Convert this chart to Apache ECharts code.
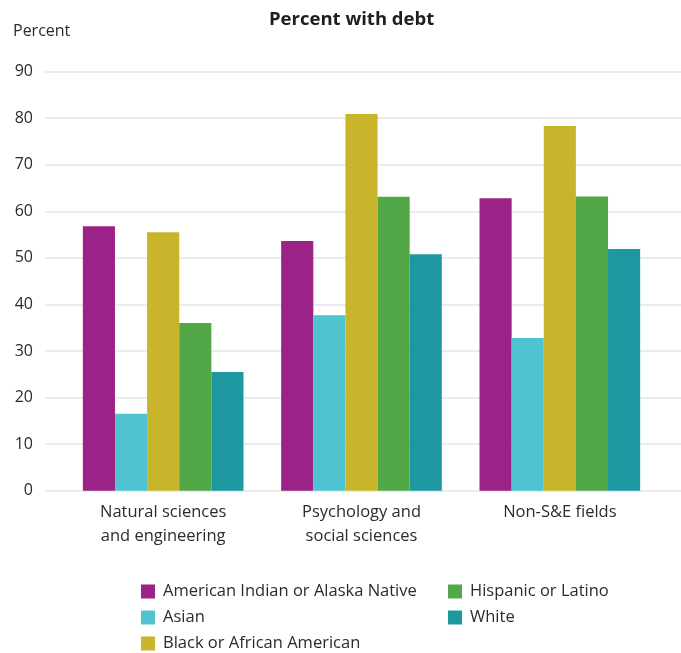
<!DOCTYPE html>
<html>
<head>
<meta charset="utf-8">
<script src="https://cdn.jsdelivr.net/npm/echarts@6/dist/echarts.min.js"></script>
<style>
  html, body { margin: 0; padding: 0; background: #fff; }
  #main { width: 681px; height: 653px; }
</style>
</head>
<body>
<div id="main"></div>
<script>
// categories and values
var categories = ['Natural sciences\nand engineering', 'Psychology and\nsocial sciences', 'Non-S&E fields'];
var groupNames = ['American Indian or Alaska Native', 'Asian', 'Black or African American', 'Hispanic or Latino', 'White'];
var indianValues = [56.8, 53.6, 62.8];
var asianValues = [16.5, 37.7, 32.8];
var blackValues = [55.5, 80.9, 78.3];
var hispanicValues = [36.0, 63.1, 63.2];
var whiteValues = [25.5, 50.8, 51.9];
var groupColors = ['#9b2387', '#4fc3cf', '#c9b52c', '#52a847', '#1d98a0'];

var font = '"Open Sans", sans-serif';
var textColor = '#2b2b2b';

var chart = echarts.init(document.getElementById('main'));

var seriesData = [indianValues, asianValues, blackValues, hispanicValues, whiteValues];
var series = [];
for (var i = 0; i < groupNames.length; i++) {
  series.push({
    name: groupNames[i],
    type: 'bar',
    xAxisIndex: 1,
    yAxisIndex: 1,
    barGap: 0,
    barCategoryGap: '19%',
    itemStyle: { color: groupColors[i] },
    data: seriesData[i]
  });
}

// legend is split in two columns like the original
function legendCol(names, left) {
  return {
    data: names,
    orient: 'vertical',
    left: left,
    top: 583,
    height: 80,
    padding: 0,
    icon: 'rect',
    itemWidth: 14,
    itemHeight: 14,
    itemGap: 9,
    textStyle: { fontFamily: font, fontSize: 16.5, color: textColor, lineHeight: 17, padding: [0, 0, 0, 3] }
  };
}

var option = {
  animation: false,
  textStyle: { fontFamily: font },
  title: {
    text: 'Percent with debt',
    left: 264,
    top: 5,
    textStyle: { fontFamily: font, fontSize: 18.5, fontWeight: 'bold', color: '#1e1e1e' }
  },
  graphic: [{
    type: 'text',
    left: 13,
    top: 23,
    style: { text: 'Percent', fontFamily: font, fontSize: 16, fill: textColor }
  }],
  legend: [legendCol(groupNames.slice(0, 3), 141), legendCol(groupNames.slice(3), 448)],
  grid: [
    { left: 45, right: 0, top: 71.6, bottom: 162.3 },
    { left: 64, right: 22, top: 71.6, bottom: 162.3 }
  ],
  xAxis: [
    { gridIndex: 0, type: 'category', data: categories, show: false },
    {
      gridIndex: 1,
      type: 'category',
      data: categories,
      axisLine: { show: false },
      axisTick: { show: false },
      axisLabel: { margin: 10, fontFamily: font, fontSize: 16.5, color: textColor, lineHeight: 24 }
    }
  ],
  yAxis: [
    {
      gridIndex: 0,
      type: 'value',
      min: 0,
      max: 90,
      interval: 10,
      axisLine: { show: false },
      axisTick: { show: false },
      axisLabel: { margin: 12, fontFamily: font, fontSize: 16, color: textColor },
      splitLine: { lineStyle: { color: '#e6e6e6', width: 1.5 } }
    },
    {
      gridIndex: 1,
      type: 'value',
      min: 0,
      max: 90,
      interval: 10,
      show: false,
      splitLine: { show: false }
    }
  ],
  series: series
};

chart.setOption(option);
</script>
</body>
</html>
